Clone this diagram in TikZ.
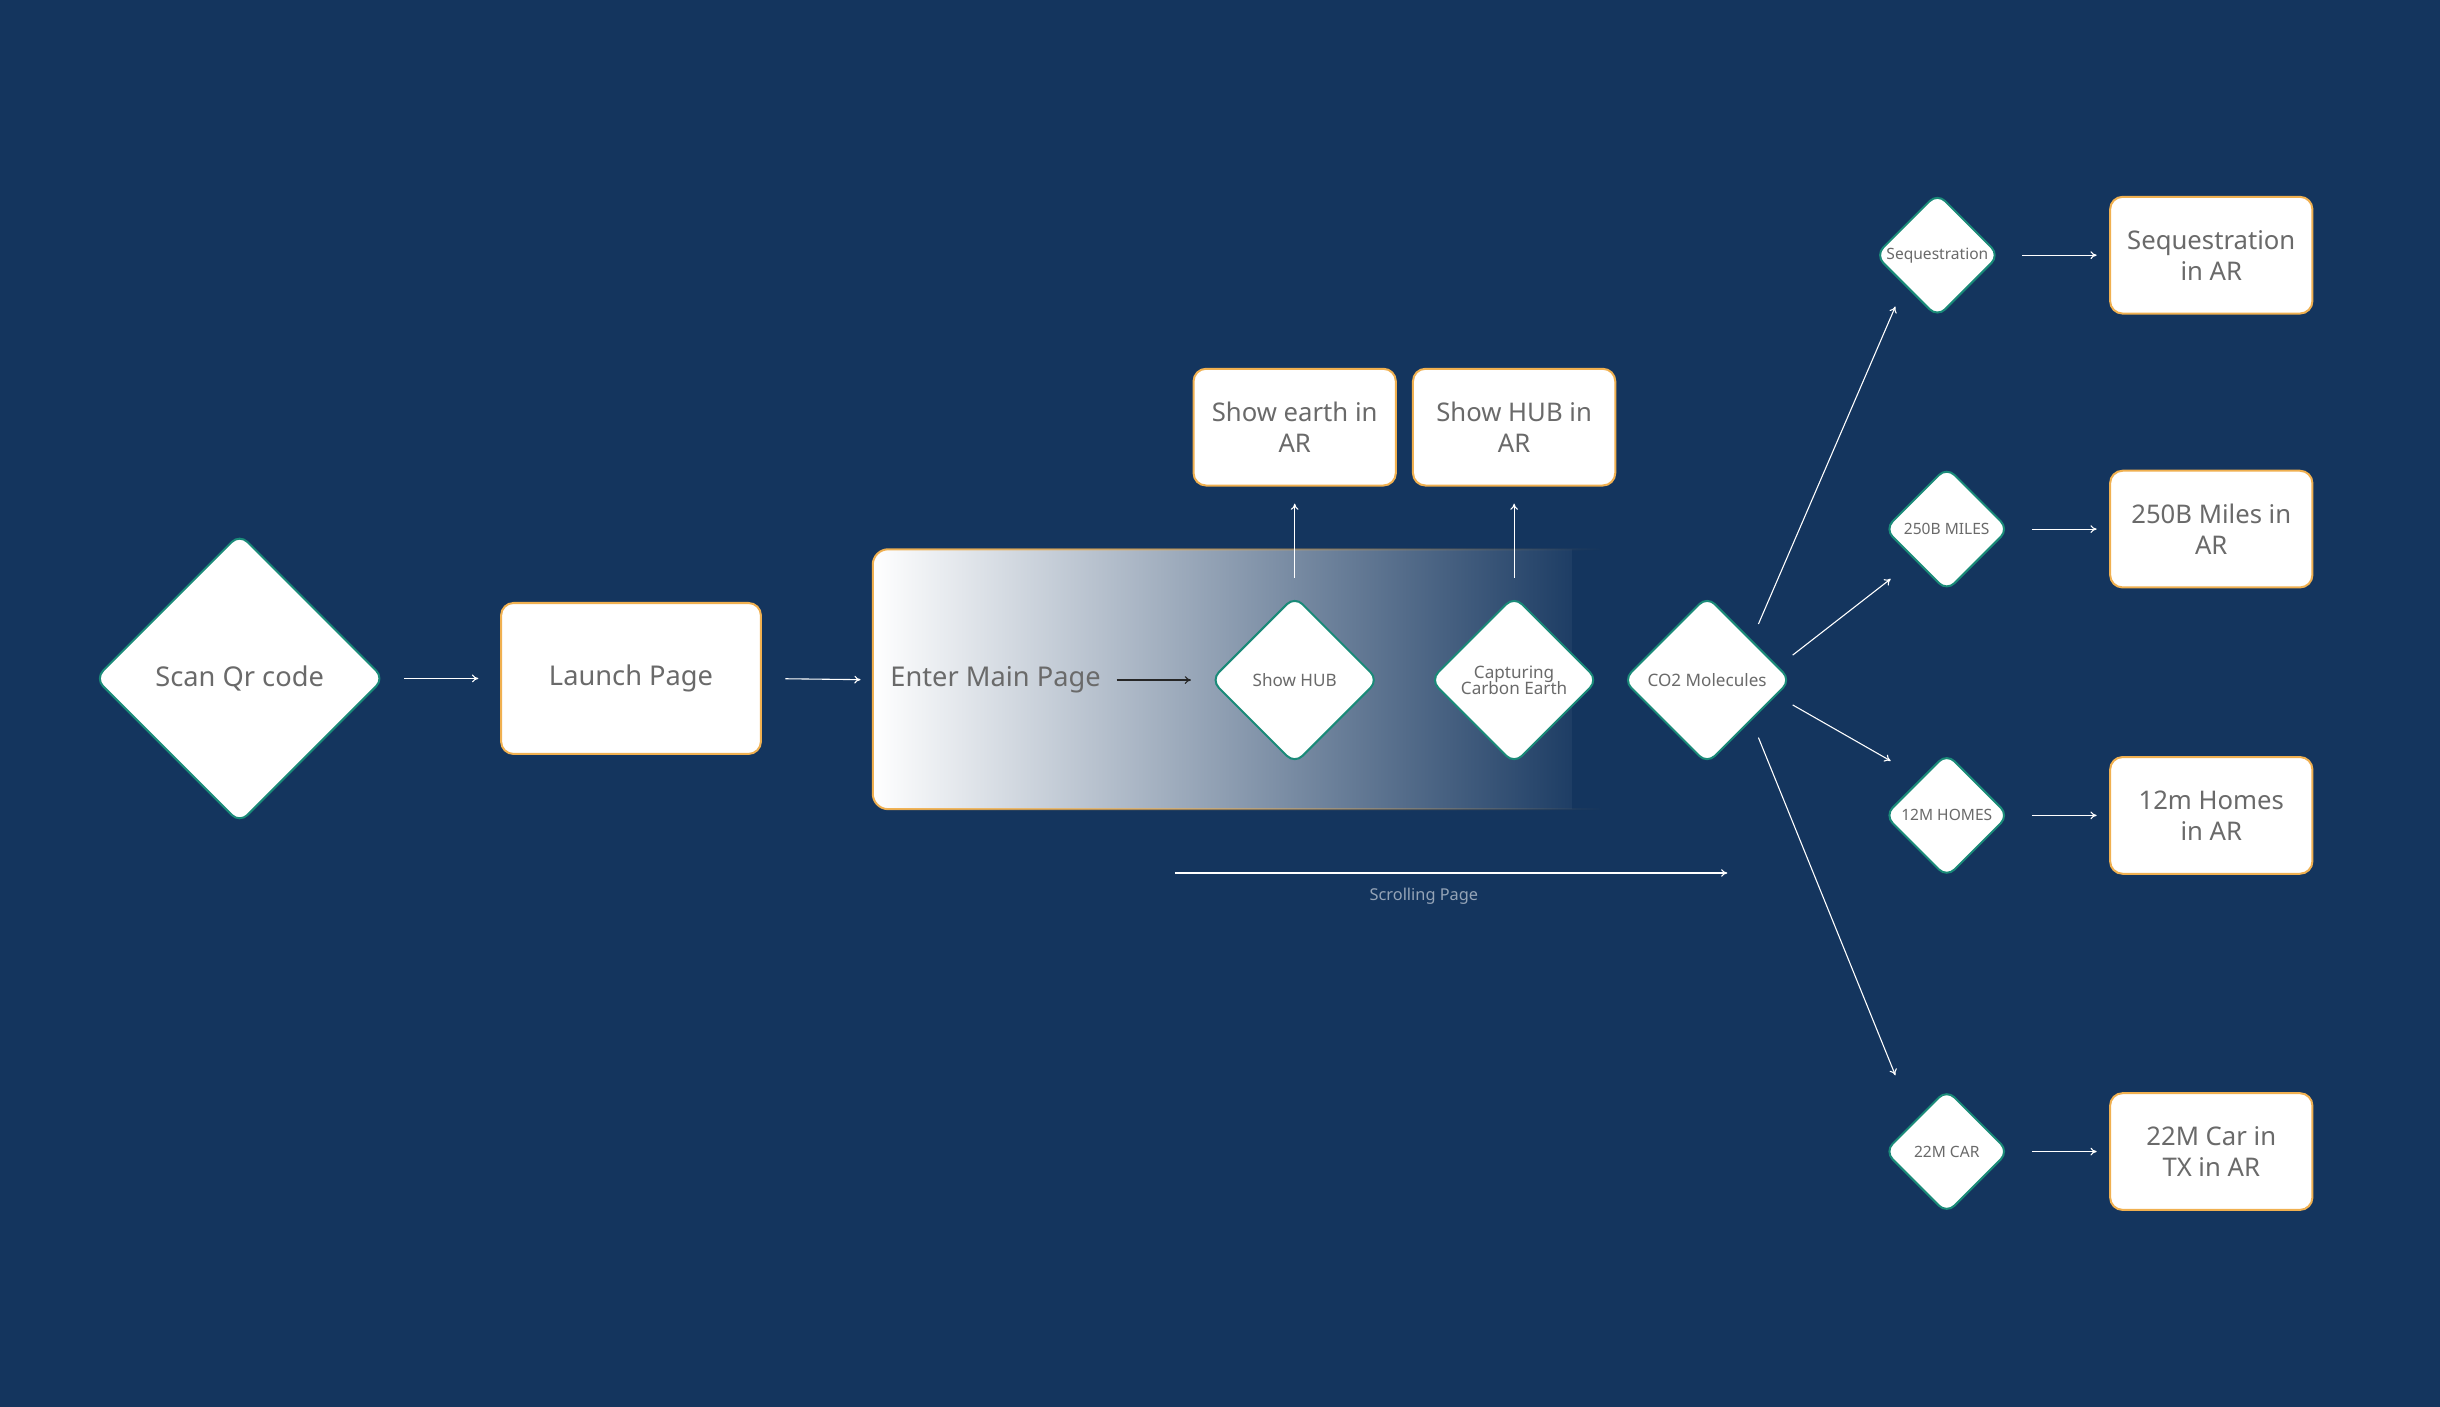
\documentclass[tikz,border=0pt]{standalone}
\usepackage{fontspec}
\setmainfont{Noto Sans}
\usetikzlibrary{shapes.geometric,arrows.meta,fadings}
\definecolor{bg}{HTML}{14355E}
\definecolor{txt}{HTML}{6A6A6A}
\definecolor{teal}{HTML}{1A8A78}
\definecolor{org}{HTML}{F0B050}
\begin{document}
\begin{tikzpicture}[x=1pt,y=-1pt,
  dia/.style={diamond,draw=teal,line width=1.3pt,fill=white,rounded corners=7pt,inner sep=0pt,text=txt,align=center,font=\fontsize{11}{12}\selectfont},
  box/.style={rectangle,draw=org,line width=1.3pt,fill=white,rounded corners=8pt,text=txt,align=center,font=\fontsize{16.5}{20}\selectfont,minimum width=130pt,minimum height=75pt},
  arr/.style={draw=white,line width=0.7pt,-{To[length=4pt,width=5pt]}},
]
\fill[bg] (0,0) rectangle (1568,904);
\useasboundingbox (0,0) rectangle (1568,904);
% gradient panel
\shade[left color=white,right color=bg,rounded corners=10pt] (561,353) rectangle (1030,520);
\fill[bg] (1010,352) rectangle (1031,521);
\draw[org,line width=1.3pt,rounded corners=10pt,path fading=east] (1030,353) -- (561,353) -- (561,520) -- (1030,520);
\node[dia,minimum width=186pt,minimum height=186pt,font=\fontsize{17.5}{20}\selectfont] (scan) at (154,436) {Scan Qr code};
\node[box,minimum width=167pt,minimum height=97pt,font=\fontsize{17.5}{20}\selectfont] (launch) at (405.5,436) {Launch Page};
\node[anchor=west,text=txt,font=\fontsize{17.5}{20}\selectfont,inner sep=0pt] (enter) at (572,437) {Enter Main Page};
\node[dia,minimum width=108pt,minimum height=108pt] (hub) at (832,437) {Show HUB};
\node[dia,minimum width=108pt,minimum height=108pt] (cap) at (973,437) {Capturing\\[-2pt]Carbon Earth};
\node[dia,minimum width=108pt,minimum height=108pt] (co2) at (1097,437) {CO2 Molecules};
\node[box] (earthar) at (832,274.5) {Show earth in\\AR};
\node[box] (hubar) at (973,274.5) {Show HUB in\\AR};
\node[dia,minimum width=80pt,minimum height=80pt,font=\fontsize{10}{11}\selectfont] (seq) at (1245,164) {Sequestration};
\node[dia,minimum width=80pt,minimum height=80pt,font=\fontsize{10}{11}\selectfont] (miles) at (1251,340) {250B MILES};
\node[dia,minimum width=80pt,minimum height=80pt,font=\fontsize{10}{11}\selectfont] (homes) at (1251,524) {12M HOMES};
\node[dia,minimum width=80pt,minimum height=80pt,font=\fontsize{10}{11}\selectfont] (car) at (1251,740) {22M CAR};
\node[box] (seqar) at (1421,164) {Sequestration\\in AR};
\node[box] (milesar) at (1421,340) {250B Miles in\\AR};
\node[box] (homesar) at (1421,524) {12m Homes\\in AR};
\node[box] (carar) at (1421,740) {22M Car in\\TX in AR};
% arrows
\draw[arr,shorten <=12pt,shorten >=14pt] (scan.east) -- (launch.west);
\draw[arr,shorten <=15pt,shorten >=19pt] (launch.east) -- (enter.west);
\draw[arr,draw=black!85,shorten <=10pt,shorten >=12pt] (enter.east) -- (hub.west);
\draw[arr,shorten <=11pt,shorten >=11pt] (hub.north) -- (earthar.south);
\draw[arr,shorten <=11pt,shorten >=11pt] (cap.north) -- (hubar.south);
\foreach \a/\b in {seq/seqar,miles/milesar,homes/homesar,car/carar}
  \draw[arr,shorten <=14pt,shorten >=8pt] (\a.east) -- (\b.west);
\coordinate (c1s) at (1130,401); \coordinate (c1e) at (1218,197);
\coordinate (c2s) at (1152,421); \coordinate (c2e) at (1215,372);
\coordinate (c3s) at (1152,453); \coordinate (c3e) at (1215,489);
\coordinate (c4s) at (1130,474); \coordinate (c4e) at (1218,691);
\foreach \i in {1,2,3,4} \draw[arr] (c\i s) -- (c\i e);
\coordinate (ss) at (755,561); \coordinate (se) at (1110,561);
\draw[arr] (ss) -- (se);
\node[text=white!55!bg,font=\fontsize{10.5}{12}\selectfont] (scroll) at (915,576) {Scrolling Page};
\end{tikzpicture}
\end{document}
